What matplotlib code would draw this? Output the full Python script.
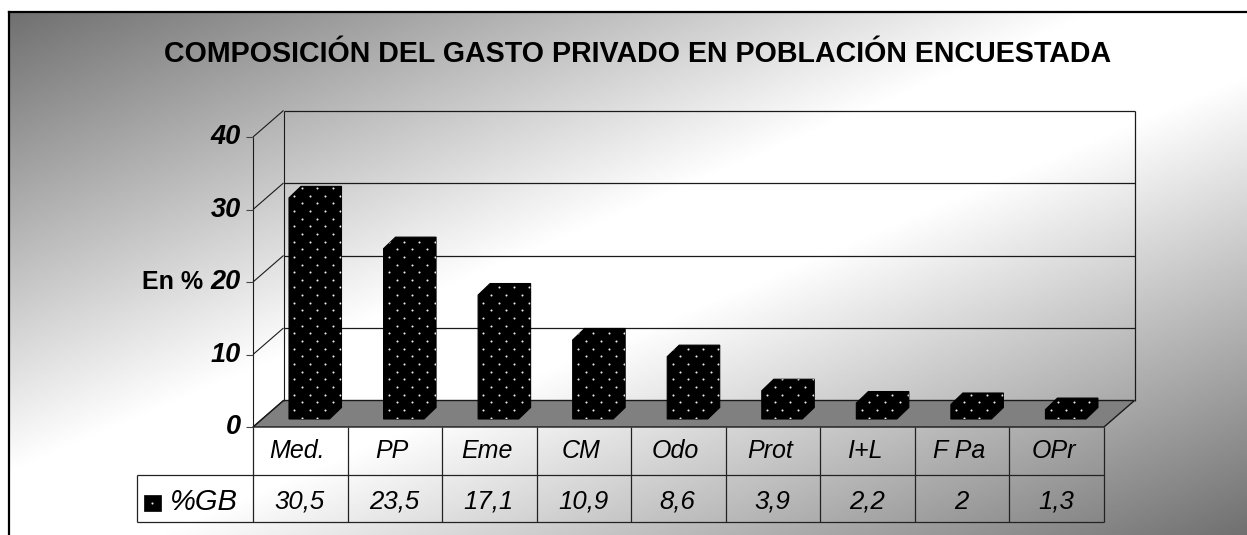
import numpy as np
import matplotlib
matplotlib.use("Agg")
import matplotlib.pyplot as plt
from matplotlib.patches import Polygon, Rectangle

categories = ["Med.", "PP", "Eme", "CM", "Odo", "Prot", "I+L", "F Pa", "OPr"]
values = [30.5, 23.5, 17.1, 10.9, 8.6, 3.9, 2.2, 2.0, 1.3]
value_labels = ["30,5", "23,5", "17,1", "10,9", "8,6", "3,9", "2,2", "2", "1,3"]
y_ticks = [0, 10, 20, 30, 40]
title = "COMPOSICIÓN DEL GASTO PRIVADO EN POBLACIÓN ENCUESTADA"
series_name = "%GB"
y_label = "En %"

W, H = 1247, 535
sans = "Liberation Sans"

fig = plt.figure(figsize=(W / 100, H / 100), dpi=100, facecolor="white")

# background
bg = fig.add_axes([0, 0, 1, 1], zorder=0)
bg.set_xlim(0, W); bg.set_ylim(H, 0); bg.axis("off")
xx, yy = np.meshgrid(np.linspace(9, W, 400), np.linspace(12, H, 300))
t = np.abs((xx - 9) / (W - 9) + (yy - 12) / (H - 12) - 1)
shade = 1 - 0.56 * np.clip((t - 0.12) / 0.88, 0, 1)
bg.imshow(shade, extent=[9, W, H, 12], cmap="gray", vmin=0, vmax=1,
          aspect="auto", zorder=0, interpolation="bilinear")
bg.plot([9, 9], [H, 12], color="black", lw=1.6, zorder=1, solid_capstyle="projecting")
bg.plot([9, W], [12, 12], color="black", lw=1.6, zorder=1)
bg.set_xlim(0, W); bg.set_ylim(H, 0)

# plot axes: front plane of the 3-D box
L, R, T, B = 253.0, 1104.0, 137.0, 427.0
ax = fig.add_axes([L / W, 1 - B / H, (R - L) / W, (B - T) / H], zorder=1)
ax.set_xlim(0, len(categories)); ax.set_ylim(0, 40)
ax.axis("off")
px = (R - L) / len(categories)   # pixels per category
py = (B - T) / 40                # pixels per unit
DX, DY = 30.5 / px, 26.5 / py
LINE = "#1a1a1a"
n = len(categories)
kw = dict(clip_on=False, solid_capstyle="butt")

# floor
ax.add_patch(Polygon([(0, 0), (n, 0), (n + DX, DY), (DX, DY)], closed=True, fc="#808080",
                     ec=LINE, lw=1.0, clip_on=False, zorder=1))
# walls and gridlines
ax.plot([0, 0], [0, 40], color=LINE, lw=0.8, zorder=2, **kw)
ax.plot([DX, DX], [DY, 40 + DY], color=LINE, lw=0.8, zorder=2, **kw)
ax.plot([n + DX, n + DX], [DY, 40 + DY], color=LINE, lw=0.9, zorder=2, **kw)
for v in y_ticks:
    ax.plot([0, DX], [v, v + DY], color=LINE, lw=0.8, zorder=2, **kw)
    ax.plot([-7 / px, 0], [v, v], color="#444444", lw=0.8, zorder=2, **kw)
    if v > 0:
        ax.plot([DX, n + DX], [v + DY, v + DY], color=LINE, lw=0.9, zorder=2, **kw)
    ax.text(-12 / px, v, str(v), ha="right", va="center", family=sans, style="italic",
            weight="bold", fontsize=19.5, color="black", clip_on=False)

# bars
off, bw, base = 36 / px, 40.5 / px, 8 / py
ddx, ddy = 12 / px, 11.5 / py
for i, v in enumerate(values):
    x0, x1 = i + off, i + off + bw
    y0, y1 = base, base + v
    verts = [(x0, y0), (x1, y0), (x1 + ddx, y0 + ddy), (x1 + ddx, y1 + ddy),
             (x0 + ddx, y1 + ddy), (x0, y1)]
    poly = Polygon(verts, closed=True, fc="black", ec="black", lw=0.8, clip_on=False, zorder=3)
    ax.add_patch(poly)
    nrows = int((v * py + 11.5) / 7.65) + 1
    dxs, dys = [], []
    for r in range(nrows):
        start = 5.3 if r % 2 else 13.0
        xs = np.arange(start, 53, 15.3)
        dxs.extend(x0 + xs / px)
        dys.extend(np.full(len(xs), y0 + (1.5 + r * 7.65) / py))
    dots = ax.scatter(dxs, dys, s=2.2, c="#eeeeee", linewidths=0, zorder=4)
    dots.set_clip_path(Polygon(verts, closed=True, transform=ax.transData))

# data table
y1, y2 = -48 / py, -95 / py
xl = -116.5 / px
tk = dict(color="#222222", lw=0.9, zorder=2, **kw)
for i in range(n + 1):
    ax.plot([i, i], [0, y2], **tk)
ax.plot([xl, n], [y1, y1], **tk)
ax.plot([xl, n], [y2, y2], **tk)
ax.plot([xl, xl], [y1, y2], **tk)
for i, (c, lab) in enumerate(zip(categories, value_labels)):
    ax.text(i + 0.47, -24 / py, c, ha="center", va="center", family=sans, style="italic",
            fontsize=18, color="black")
    ax.text(i + 0.49, -75 / py, lab, ha="center", va="center", family=sans, style="italic",
            fontsize=18.5, color="black")
ax.add_patch(Rectangle((-109 / px, -84 / py), 16.5 / px, 16.5 / py, fc="black", ec="black",
                       lw=0.5, clip_on=False, zorder=3))
ax.scatter([-100.7 / px], [-75.7 / py], s=2.2, c="#eeeeee", linewidths=0, zorder=4, clip_on=False)
ax.text(-83 / px, -75 / py, series_name, ha="left", va="center", family=sans, style="italic",
        fontsize=21, color="black")

# labels
ax.text(-111 / px, 20, y_label, ha="left", va="center", family=sans, weight="bold",
        fontsize=18, color="black")
fig.text(638 / W, 1 - 54 / H, title, ha="center", va="center", family=sans, weight="bold",
         fontsize=20.6, color="black")

fig.savefig("out.png", dpi=100)
